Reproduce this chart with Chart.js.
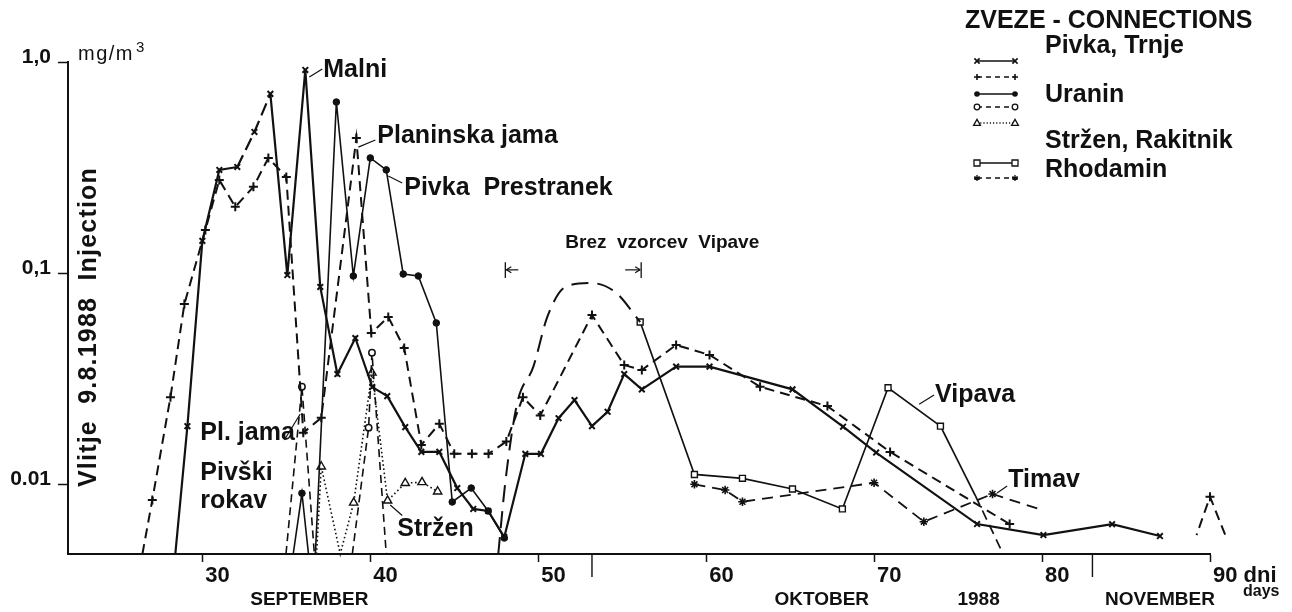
<!DOCTYPE html>
<html>
<head>
<meta charset="utf-8">
<title>Sledilni poskus 1988 - Pivka, Stržen</title>
<script src="https://cdn.jsdelivr.net/npm/chart.js@4.4.1/dist/chart.umd.min.js"></script>
<style>
  html, body { margin: 0; padding: 0; background: #fff; }
  canvas { display: block; }
</style>
</head>
<body>
<canvas id="chart" width="1292" height="612"></canvas>
<script>
// Tracer concentrations (mg/m3) against days after injection on 9.8.1988.
// 0.00466 marks a line running off the bottom of the log axis.

// Pivka, Trnje – Malni (x)
const trnjeDays = [28.39, 29.11, 30.00, 31.01, 32.08, 33.10, 34.05, 35.06, 36.13, 37.02, 38.04, 39.11, 40.12, 41.01,
  42.08, 43.04, 44.11, 45.18, 46.13, 47.02, 47.98, 49.23, 50.16, 51.21, 52.16, 53.20, 54.13, 55.12, 56.17, 58.21,
  60.20, 65.14, 68.15, 70.12, 76.13, 80.08, 84.17, 87.02];
const trnjeVals = [0.00466, 0.0188, 0.142, 0.308, 0.318, 0.466, 0.706, 0.0978, 0.917, 0.0859, 0.0332, 0.0492, 0.0288,
  0.0261, 0.0186, 0.0142, 0.0142, 0.00957, 0.00762, 0.00745, 0.00561, 0.0139, 0.0139, 0.0205, 0.0250, 0.0188, 0.0220,
  0.0332, 0.0281, 0.0360, 0.0360, 0.0281, 0.0187, 0.0141, 0.00646, 0.00573, 0.00645, 0.00567];

// Planinska jama (+)
const planDays = [26.43, 27.02, 28.10, 28.93, 30.18, 31.01, 31.96, 33.04, 33.93, 35.00, 36.01, 37.08, 39.17, 40.06,
  41.07, 42.02, 43.04, 44.11, 45.00, 46.05, 47.04, 48.10, 49.09, 50.12, 53.20, 55.12, 56.17, 58.21, 60.20, 63.21,
  67.22, 70.95, 78.07];
const planVals = [0.00466, 0.0084, 0.0258, 0.0713, 0.160, 0.276, 0.206, 0.256, 0.351, 0.285, 0.0175, 0.0206, 0.436,
  0.0519, 0.0619, 0.0441, 0.0153, 0.0193, 0.0139, 0.0139, 0.0139, 0.0159, 0.0258, 0.0211, 0.0632, 0.0366, 0.0347,
  0.0456, 0.0409, 0.0289, 0.0234, 0.0142, 0.00646];
// late return at day 90, listed right to left so the trailing leg past the axis end is kept
const planLateDays = [90.9, 90.0, 89.2];
const planLateVals = [0.00575, 0.00871, 0.00573];

// Pivka Prestranek (•)
const prestDays = [35.41, 35.93, 36.32, null, 36.73, 37.98, 38.99, 40.00, 40.95, 41.96, 42.86, 43.93, 44.88, 46.01,
  47.02, 47.98];
const prestVals = [0.00466, 0.00904, 0.00466, null, 0.00466, 0.646, 0.0968, 0.351, 0.308, 0.0989, 0.0968, 0.0580,
  0.00822, 0.00957, 0.00745, 0.00555];

// Planinska jama, Pivški rokav (o)
const rokavDays = [34.98, 35.93, 36.67, null, 38.93, 39.90, 40.10, 40.95];
const rokavVals = [0.00466, 0.0289, 0.00466, null, 0.00466, 0.0185, 0.0419, 0.00466];

// Stržen (△)
const strzenDays = [36.80, 37.08, 38.21, 39.01, 40.10, 41.03, 42.08, 43.08, 44.01];
const strzenVals = [0.00466, 0.0121, 0.00466, 0.00815, 0.0337, 0.00834, 0.0101, 0.0102, 0.00921];

// Vipava, Rhodamin (□); the dashed arc spans the days without Vipava samples
const vipGapDays = [47.62, 48.04, 48.75, 49.70, 50.54, 51.61, 53.10, 54.58, 56.07];
const vipGapVals = [0.00466, 0.0102, 0.0242, 0.0358, 0.0619, 0.0858, 0.0897, 0.0813, 0.0586];
const vipDays = [56.07, 59.30, 62.16, 65.14, 68.11, 70.83, 73.95];
const vipVals = [0.0586, 0.0111, 0.01064, 0.00947, 0.00762, 0.0286, 0.0188];
const vipTailDays = [73.95, 76.04, 77.68];
const vipTailVals = [0.0188, 0.00877, 0.00466];

// Timav, Rhodamin (*)
const timavDays = [59.30, 61.13, 62.16, 70.00, 72.96, 77.05];
const timavVals = [0.00997, 0.00937, 0.00824, 0.01014, 0.00663, 0.00897];
const timavTailDays = [77.05, 80.0];
const timavTailVals = [0.00897, 0.00753];

// Axis ticks and calendar labels
const xTickValues = [30, 40, 50, 60, 70, 80, 90];
const xTickLabels = ['30', '40', '50', '60', '70', '80', '90 dni'];
const yTickValues = [0.01, 0.1, 1];
const yTickLabels = ['0.01', '0,1', '1,0'];
const monthBoundaries = [53.2, 83.0];
const monthNames = ['SEPTEMBER', 'OKTOBER', '1988', 'NOVEMBER'];
const monthCenters = [36.37, 66.88, 76.22, 87.02];

// ---------------------------------------------------------------------------
const INK = '#111';
const FONT = '"Liberation Sans", Arial, Helvetica, sans-serif';
const AXIS_MIN = 0.00466;
const AXIS_FLOOR = 0.00467;

Chart.defaults.font.family = FONT;
Chart.defaults.color = INK;

function points(days, vals) {
  return days.map((d, i) => d === null ? { x: days[i - 1], y: null } : { x: d, y: vals[i] });
}
const radiusAboveAxis = r => c => (c.raw && c.raw.y !== null && c.raw.y <= AXIS_FLOOR) ? 0 : r;

const trnjeDashedSegments = [4, 5];

const datasets = [
  { label: 'Malni', data: points(trnjeDays, trnjeVals), borderColor: INK, borderWidth: 2.2,
    pointStyle: 'crossRot', pointRadius: radiusAboveAxis(4), pointBorderWidth: 2, pointBorderColor: INK,
    segment: { borderDash: c => trnjeDashedSegments.includes(c.p0DataIndex) ? [13, 6] : undefined } },
  { label: 'Planinska jama', data: points(planDays, planVals), borderColor: INK, borderWidth: 2, borderDash: [10, 6],
    pointStyle: 'cross', pointRadius: radiusAboveAxis(4.5), pointBorderWidth: 2, pointBorderColor: INK },
  { label: 'Planinska jama (pozno)', data: points(planLateDays, planLateVals), borderColor: INK, borderWidth: 2,
    borderDash: [10, 6], pointStyle: 'cross', pointRadius: [0, 4.5, 0], pointBorderWidth: 2, pointBorderColor: INK },
  { label: 'Pivka Prestranek', data: points(prestDays, prestVals), borderColor: INK, borderWidth: 1.6,
    pointStyle: 'circle', pointRadius: radiusAboveAxis(3.3), pointBorderWidth: 1, pointBorderColor: INK,
    pointBackgroundColor: INK },
  { label: 'Pl. jama Pivški rokav', data: points(rokavDays, rokavVals), borderColor: INK, borderWidth: 1.6,
    borderDash: [8, 5], pointStyle: 'circle', pointRadius: radiusAboveAxis(3.2), pointBorderWidth: 1.5,
    pointBorderColor: INK, pointBackgroundColor: '#fff' },
  { label: 'Stržen', data: points(strzenDays, strzenVals), borderColor: INK, borderWidth: 1.6, borderDash: [1.6, 2.6],
    pointStyle: 'triangle', pointRadius: radiusAboveAxis(4.8), pointBorderWidth: 1.4, pointBorderColor: INK,
    pointBackgroundColor: '#fff' },
  { label: 'Vipava (brez vzorcev)', data: points(vipGapDays, vipGapVals), borderColor: INK, borderWidth: 2,
    borderDash: [17, 9], cubicInterpolationMode: 'monotone', pointRadius: 0 },
  { label: 'Vipava', data: points(vipDays, vipVals), borderColor: INK, borderWidth: 1.7,
    pointStyle: 'rect', pointRadius: 4.2, pointBorderWidth: 1.4, pointBorderColor: INK, pointBackgroundColor: '#fff' },
  { label: 'Vipava (nadaljevanje)', data: points(vipTailDays, vipTailVals), borderColor: INK, borderWidth: 1.7,
    pointRadius: 0, segment: { borderDash: c => c.p0DataIndex === 1 ? [10, 6] : undefined } },
  { label: 'Timav', data: points(timavDays, timavVals), borderColor: INK, borderWidth: 1.8, borderDash: [11, 7],
    pointStyle: 'star', pointRadius: 4.2, pointBorderWidth: 1.6, pointBorderColor: INK },
  { label: 'Timav (nadaljevanje)', data: points(timavTailDays, timavTailVals), borderColor: INK, borderWidth: 1.8,
    borderDash: [11, 7], pointRadius: 0 }
];
datasets.forEach(ds => { ds.fill = false; ds.tension = ds.cubicInterpolationMode ? undefined : 0; ds.clip = false; });

// Station names with their leader lines, placed in data coordinates (day, mg/m3)
const stationLabels = [
  { text: 'Malni', day: 37.20, val: 0.849, lead: [36.37, 0.849, 37.14, 0.927] },
  { text: 'Planinska jama', day: 40.42, val: 0.413, lead: [39.29, 0.395, 40.30, 0.427] },
  { text: 'Pivka  Prestranek', day: 42.02, val: 0.234, lead: [41.07, 0.288, 41.90, 0.267] },
  { text: 'Pl. jama', day: 29.88, val: 0.01616, lead: [34.88, 0.01616, 35.83, 0.02146] },
  { text: 'Pivški', day: 29.88, val: 0.01045 },
  { text: 'rokav', day: 29.88, val: 0.00769 },
  { text: 'Stržen', day: 41.61, val: 0.00567, lead: [41.19, 0.00795, 41.90, 0.00709] },
  { text: 'Vipava', day: 73.63, val: 0.0245, lead: [72.68, 0.0239, 73.57, 0.0264] },
  { text: 'Timav', day: 77.98, val: 0.00963, lead: [77.32, 0.00906, 77.92, 0.00978] }
];

function drawMarker(ctx, style, x, y, r) {
  ctx.save();
  ctx.strokeStyle = INK; ctx.fillStyle = INK; ctx.setLineDash([]);
  ctx.beginPath();
  switch (style) {
    case 'crossRot':
      ctx.lineWidth = 1.6;
      ctx.moveTo(x - r, y - r); ctx.lineTo(x + r, y + r); ctx.moveTo(x + r, y - r); ctx.lineTo(x - r, y + r);
      ctx.stroke(); break;
    case 'cross':
      ctx.lineWidth = 1.6;
      ctx.moveTo(x - r, y); ctx.lineTo(x + r, y); ctx.moveTo(x, y - r); ctx.lineTo(x, y + r);
      ctx.stroke(); break;
    case 'dot':
      ctx.arc(x, y, r, 0, Math.PI * 2); ctx.fill(); break;
    case 'ring':
      ctx.lineWidth = 1.3; ctx.fillStyle = '#fff';
      ctx.arc(x, y, r, 0, Math.PI * 2); ctx.fill(); ctx.stroke(); break;
    case 'triangle':
      ctx.lineWidth = 1.3; ctx.fillStyle = '#fff';
      ctx.moveTo(x, y - r); ctx.lineTo(x + r * 0.95, y + r * 0.65); ctx.lineTo(x - r * 0.95, y + r * 0.65);
      ctx.closePath(); ctx.fill(); ctx.stroke(); break;
    case 'square':
      ctx.lineWidth = 1.3; ctx.fillStyle = '#fff';
      ctx.rect(x - r, y - r, 2 * r, 2 * r); ctx.fill(); ctx.stroke(); break;
    case 'star':
      ctx.lineWidth = 1.3;
      for (let k = 0; k < 3; k++) {
        const a = k * Math.PI / 3;
        ctx.moveTo(x - r * Math.sin(a), y - r * Math.cos(a)); ctx.lineTo(x + r * Math.sin(a), y + r * Math.cos(a));
      }
      ctx.moveTo(x - r, y); ctx.lineTo(x + r, y);
      ctx.stroke(); break;
  }
  ctx.restore();
}

function seg(ctx, x1, y1, x2, y2, w, dash) {
  ctx.save();
  ctx.strokeStyle = INK; ctx.lineWidth = w || 1.2; ctx.setLineDash(dash || []);
  ctx.beginPath(); ctx.moveTo(x1, y1); ctx.lineTo(x2, y2); ctx.stroke();
  ctx.restore();
}

function label(ctx, text, x, y, font, align) {
  ctx.font = font;
  ctx.textAlign = align || 'left';
  ctx.textBaseline = 'alphabetic';
  ctx.fillStyle = INK;
  ctx.fillText(text, x, y);
}

const annotations = {
  id: 'annotations',
  afterDatasetsDraw(chart) {
    const { ctx, scales: { x, y }, chartArea } = chart;
    const px = d => x.getPixelForValue(d);
    const py = v => y.getPixelForValue(v);
    ctx.save();

    // vertical axis title, running bottom to top inside the plot
    ctx.save();
    ctx.translate(chartArea.left + 28, py(0.318));
    ctx.rotate(-Math.PI / 2);
    ctx.letterSpacing = '1.2px';
    label(ctx, 'Vlitje  9.8.1988  Injection', 0, 0, `bold 25px ${FONT}`, 'right');
    ctx.letterSpacing = '0px';
    ctx.restore();

    // unit next to the top of the axis
    ctx.save();
    ctx.font = `20px ${FONT}`;
    ctx.letterSpacing = '1.5px';
    label(ctx, 'mg/m', chartArea.left + 10, py(1) - 2, `20px ${FONT}`);
    const w = ctx.measureText('mg/m').width;
    ctx.letterSpacing = '0px';
    label(ctx, '3', chartArea.left + 12 + w, py(1) - 10, `15px ${FONT}`);
    ctx.restore();

    // month boundaries and calendar labels under the day axis
    monthBoundaries.forEach(d => seg(ctx, px(d), chartArea.bottom, px(d), chartArea.bottom + 23, 1.4));
    monthNames.forEach((m, i) => label(ctx, m, px(monthCenters[i]), chartArea.bottom + 51, `bold 19px ${FONT}`, 'center'));
    label(ctx, 'days', px(90) + 33, chartArea.bottom + 42, `bold 16px ${FONT}`);

    // station names
    stationLabels.forEach(s => {
      label(ctx, s.text, px(s.day), py(s.val), `bold 25px ${FONT}`);
      if (s.lead) seg(ctx, px(s.lead[0]), py(s.lead[1]), px(s.lead[2]), py(s.lead[3]), 1.2);
    });

    // period without Vipava samples
    label(ctx, 'Brez  vzorcev  Vipave', px(51.61), py(0.1314), `bold 19px ${FONT}`);
    const bl = px(48.04), br = px(56.13), bTop = py(0.1126), bBot = py(0.0946), bMid = py(0.1035);
    seg(ctx, bl, bTop, bl, bBot, 1.3);
    seg(ctx, bl + 1, bMid, bl + 13, bMid, 1.2);
    seg(ctx, bl + 1, bMid, bl + 6, bMid - 3, 1.2);
    seg(ctx, bl + 1, bMid, bl + 6, bMid + 3, 1.2);
    seg(ctx, br, bTop, br, bBot, 1.3);
    seg(ctx, br - 16, bMid, br - 1, bMid, 1.2);
    seg(ctx, br - 1, bMid, br - 6, bMid - 3, 1.2);
    seg(ctx, br - 1, bMid, br - 6, bMid + 3, 1.2);

    // legend
    label(ctx, 'ZVEZE - CONNECTIONS', 965, 28, `bold 25px ${FONT}`);
    const lx1 = 977, lx2 = 1015;
    const legendRows = [
      { y: 61, style: 'crossRot', r: 2.6, dash: [] },
      { y: 77, style: 'cross', r: 3, dash: [5, 4] },
      { y: 94, style: 'dot', r: 2.8, dash: [] },
      { y: 107, style: 'ring', r: 2.8, dash: [5, 4] },
      { y: 123, style: 'triangle', r: 3.6, dash: [1.2, 2] },
      { y: 163, style: 'square', r: 3, dash: [] },
      { y: 178, style: 'star', r: 3, dash: [5, 4] }
    ];
    legendRows.forEach(row => {
      seg(ctx, lx1, row.y, lx2, row.y, 1.3, row.dash);
      drawMarker(ctx, row.style, lx1, row.y, row.r);
      drawMarker(ctx, row.style, lx2, row.y, row.r);
    });
    label(ctx, 'Pivka, Trnje', 1045, 53, `bold 25px ${FONT}`);
    label(ctx, 'Uranin', 1045, 102, `bold 25px ${FONT}`);
    label(ctx, 'Stržen, Rakitnik', 1045, 148, `bold 25px ${FONT}`);
    label(ctx, 'Rhodamin', 1045, 177, `bold 25px ${FONT}`);

    ctx.restore();
  }
};

new Chart(document.getElementById('chart'), {
  type: 'line',
  data: { datasets },
  options: {
    responsive: false,
    animation: false,
    devicePixelRatio: 1,
    layout: { padding: { top: 62, right: 82, left: 0, bottom: 0 } },
    plugins: { legend: { display: false }, tooltip: { enabled: false } },
    scales: {
      x: {
        type: 'linear', min: 22, max: 90, bounds: 'data',
        afterBuildTicks: s => { s.ticks = xTickValues.map(v => ({ value: v })); },
        afterFit: s => { s.height = 58; s.paddingLeft = 0; s.paddingRight = 0; },
        grid: { display: true, drawOnChartArea: false, drawTicks: true, tickLength: 8, tickWidth: 1.5, tickColor: INK },
        border: { display: true, color: INK, width: 2 },
        ticks: {
          align: 'start', labelOffset: 3, padding: 1, maxRotation: 0, autoSkip: false, color: INK,
          font: { size: 22, weight: 'bold' },
          callback: (v, i) => xTickLabels[i]
        }
      },
      y: {
        type: 'logarithmic', min: AXIS_MIN, max: 1, bounds: 'data',
        afterBuildTicks: s => { s.ticks = yTickValues.map(v => ({ value: v })); },
        afterFit: s => { s.width = 68; s.paddingTop = 0; s.paddingBottom = 0; },
        grid: { display: true, drawOnChartArea: false, drawTicks: true, tickLength: 10, tickWidth: 1.5, tickColor: INK },
        border: { display: true, color: INK, width: 2 },
        ticks: {
          padding: 7, labelOffset: -5, color: INK,
          font: { size: 21, weight: 'bold' },
          callback: (v, i) => yTickLabels[i]
        }
      }
    }
  },
  plugins: [annotations]
});
</script>
</body>
</html>
